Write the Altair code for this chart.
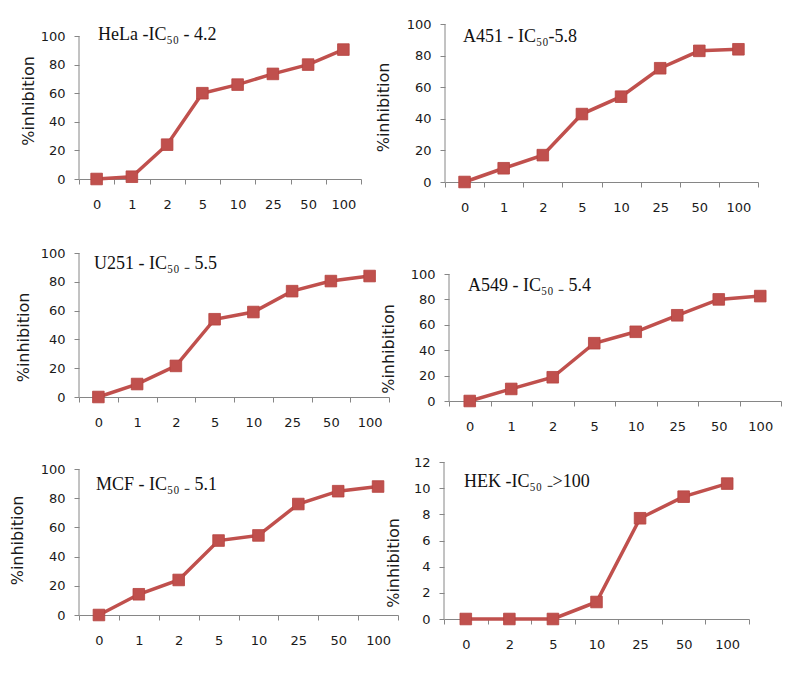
import altair as alt
import pandas as pd

# ---------------- data ----------------
conc_main = ["0", "1", "2", "5", "10", "25", "50", "100"]
conc_hek = ["0", "2", "5", "10", "25", "50", "100"]

hela = [0, 1.6, 24, 60, 66, 73.5, 80, 90.5]
a451 = [0, 8.7, 17, 43, 54, 72, 83, 84]
u251 = [0, 9, 21.6, 54, 59, 73.5, 80.5, 84]
a549 = [0, 9.5, 18.7, 45.5, 54.5, 67.5, 80, 82.6]
mcf = [0, 14.2, 24, 51, 54.5, 76, 84.8, 88]
hek = [0, 0, 0, 1.3, 7.7, 9.35, 10.35]

panel_labels = [
    "HeLa -IC\u2085\u2080 - 4.2",
    "A451 - IC\u2085\u2080-5.8",
    "U251 - IC\u2085\u2080 \u208b 5.5",
    "A549 - IC\u2085\u2080 \u208b 5.4",
    "MCF - IC\u2085\u2080 \u208b 5.1",
    "HEK -IC\u2085\u2080 \u208b>100",
]
y_title = "%inhibition"

RED = "#C0504D"
AXIS = "#868686"


def panel(cats, vals, label, ymax, ystep, width, height, extra, kx, ky,
          title_dx, title_dy, text_dx, text_dy):
    """height = plot height of the 0..ymax span; extra = empty space above ymax."""
    df = pd.DataFrame({"conc": cats, "inhib": vals})
    top = ymax * (height + extra) / height
    x = alt.X(
        "conc:O",
        sort=cats,
        scale=alt.Scale(type="band", paddingInner=0, paddingOuter=0),
        axis=alt.Axis(
            title=None, labelAngle=0, tickBand="extent", grid=False,
            domainColor=AXIS, tickColor=AXIS, tickSize=5, labelPadding=14,
            labelFont="DejaVu Sans", labelFontSize=13, labelColor="#1a1a1a",
        ),
    )
    y = alt.Y(
        "inhib:Q",
        scale=alt.Scale(domain=[0, top], nice=False, zero=True),
        axis=alt.Axis(
            title=y_title, values=list(range(0, ymax + 1, ystep)), grid=False,
            domain=False, tickColor=AXIS, tickSize=5, labelPadding=9,
            labelFont="DejaVu Sans", labelFontSize=13, labelColor="#1a1a1a",
            titleFont="DejaVu Sans", titleFontSize=16, titleFontWeight="normal",
            titleColor="#1a1a1a", titleX=-title_dx,
            titleY=extra + height / 2 + title_dy,
            titleAngle=270, titleAlign="center", titleBaseline="middle",
        ),
    )
    base = alt.Chart(df)
    # y-axis line covering only 0..ymax
    yline = alt.Chart(pd.DataFrame({"inhib": [0], "hi": [ymax]})).mark_rule(
        color=AXIS, strokeWidth=1
    ).encode(x=alt.value(0), y=y, y2="hi:Q")
    line = base.mark_line(color=RED, strokeWidth=3.5).encode(x=x, y=y)
    pts = base.mark_point(
        shape="square", filled=True, size=135, color=RED, opacity=1,
        stroke="#B5423F", strokeWidth=0.8,
    ).encode(x=x, y=y)
    txt = alt.Chart(pd.DataFrame({"t": [label]})).mark_text(
        font="Liberation Serif", fontSize=18, color="#111111",
        align="left", baseline="alphabetic",
    ).encode(x=alt.value(text_dx), y=alt.value(extra + text_dy), text="t:N")
    anchor = alt.Chart(pd.DataFrame({"a": ["."]})).mark_text(
        opacity=0, fontSize=1
    ).encode(x=alt.value(-kx), y=alt.value(-ky), text="a:N")
    return alt.layer(yline, line, pts, txt, anchor).properties(
        width=width, height=height + extra
    )


p1 = panel(conc_main, hela, panel_labels[0], 100, 20, 282, 143, 12, 70, 15, 51, -7, 19, 4)
p2 = panel(conc_main, a451, panel_labels[1], 100, 20, 313, 158, 0, 0, 15, 62, 4, 18, 18)
p3 = panel(conc_main, u251, panel_labels[2], 100, 20, 310, 144, 0, 70, 20, 56, 12, 15, 16)
p4 = panel(conc_main, a549, panel_labels[3], 100, 20, 332, 127, 21, 0, 20, 61, 11, 19, 17)
p5 = panel(conc_main, mcf, panel_labels[4], 100, 20, 319, 146, 7, 70, 10, 62, -2, 17, 21)
p6 = panel(conc_hek, hek, panel_labels[5], 12, 2, 305, 157, 0, 0, 10, 51, 22, 20, 25)

row1 = alt.hconcat(p1, p2, spacing=13)
row2 = alt.hconcat(p3, p4, spacing=-10)
row3 = alt.hconcat(p5, p6, spacing=-14)

chart = (
    alt.vconcat(row1, row2, row3, spacing=18)
    .properties(padding={"left": 0, "top": 0, "right": 0, "bottom": 0}, background="white")
    .configure_view(stroke=None)
)

chart.save("out.html", embed_options={"renderer": "svg", "actions": False})
